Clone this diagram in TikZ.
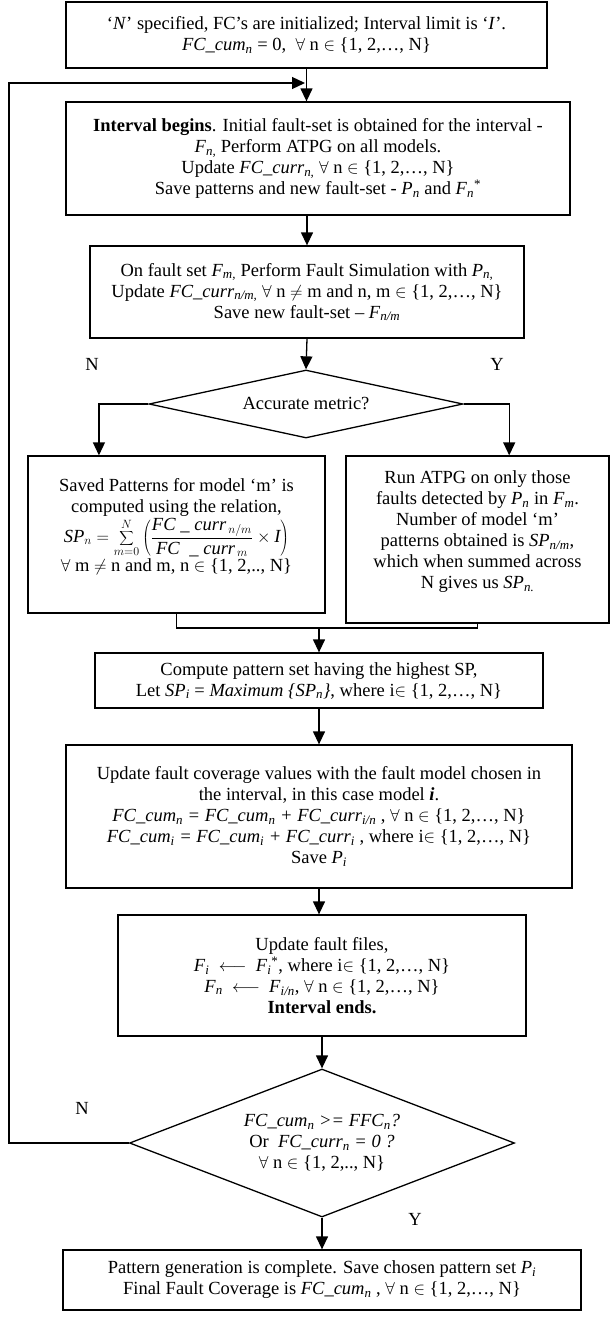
\documentclass[tikz,border=0pt]{standalone}
\usepackage{fontspec}
\setmainfont{Liberation Serif}
\usetikzlibrary{arrows.meta,shapes.geometric,calc}
\newcommand\sbi[1]{\textsubscript{\textit{#1}}}
\newcommand\fa{$\forall$}
\newcommand\myin{$\in$}
\begin{document}
\begin{tikzpicture}[x=1pt,y=-1pt,
  every node/.style={font=\fontsize{18.5}{21}\selectfont},
  box/.style={draw,line width=1.3pt,align=center,inner sep=0pt},
  dia/.style={draw,line width=1.3pt,diamond,align=center,inner sep=0pt},
  arr/.style={line width=1.3pt,-{Triangle[length=13pt,width=12pt]}},
  ln/.style={line width=1.3pt},
  lab/.style={inner sep=0pt}]
\useasboundingbox (0,0) rectangle (611,1317);

\node[box,minimum width=481pt,minimum height=66pt] (b1) at (306.5,35)
 {‘\textit{N}’ specified, FC’s are initialized; Interval limit is ‘\textit{I}’.\\
  \textit{FC\_cum}\sbi{n} = 0, \ \fa\ n \myin\ \{1, 2,…, N\}};

\node[box,minimum width=504pt,minimum height=113pt] (b2) at (318,158.5)
 {\textbf{Interval begins}. Initial fault-set is obtained for the interval -\\
  \textit{F}\sbi{n,} Perform ATPG on all models.\\
  Update \textit{FC\_curr}\sbi{n,} \fa\ n \myin\ \{1, 2,…, N\}\\
  Save patterns and new fault-set - \textit{P}\sbi{n} and \textit{F}\sbi{n}\textsuperscript{*}};

\node[box,minimum width=434pt,minimum height=92pt] (b3) at (307,292)
 {On fault set \textit{F}\sbi{m,} Perform Fault Simulation with \textit{P}\sbi{n,}\\
  Update \textit{FC\_curr}\sbi{n/m,} \fa\ n $\neq$ m and n, m \myin\ \{1, 2,…, N\}\\
  Save new fault-set – \textit{F}\sbi{n/m}};

\node[dia,shape aspect=4.6,minimum width=314pt,minimum height=68pt] (d1) at (306,404) {Accurate metric?};

\node[box,minimum width=297pt,minimum height=157pt] (bl) at (176.5,534.5)
 {Saved Patterns for model ‘m’ is\\
  computed using the relation,\\[1pt]
  $\displaystyle \textit{SP}_{n} = \sum_{m=0}^{N}\left(\frac{\textit{FC}\;\_\;\textit{curr}_{\,n/m}}{\textit{FC}\;\;\_\;\textit{curr}_{\,m}}\times \textit{I}\right)$\\[1pt]
  \fa\ m $\neq$ n and m, n \myin\ \{1, 2,.., N\}\\[-2pt]\mbox{}};

\node[box,minimum width=263pt,minimum height=167pt] (br) at (477.5,539.5)
 {Run ATPG on only those\\
  faults detected by \textit{P}\sbi{n} in \textit{F}\sbi{m}.\\
  Number of model ‘m’\\
  patterns obtained is \textit{SP}\sbi{n/m},\\
  which when summed across\\
  N gives us \textit{SP}\sbi{n.}\\[-2pt]\mbox{}};

\node[box,minimum width=448pt,minimum height=55pt] (b4) at (319,680.5)
 {Compute pattern set having the highest SP,\\
  Let \textit{SP}\sbi{i} = \textit{Maximum \{SP}\sbi{n}\textit{\}}, where i\myin\ \{1, 2,…, N\}};

\node[box,minimum width=506pt,minimum height=143pt] (b5) at (319,816.5)
 {Update fault coverage values with the fault model chosen in\\
  the interval, in this case model \textbf{\textit{i}}.\\
  \textit{FC\_cum}\sbi{n} \textit{= FC\_cum}\sbi{n} \textit{+ FC\_curr}\sbi{i/n} , \fa\ n \myin\ \{1, 2,…, N\}\\
  \textit{FC\_cum}\sbi{i} \textit{= FC\_cum}\sbi{i} \textit{+ FC\_curr}\sbi{i} , where i\myin\ \{1, 2,…, N\}\\
  Save \textit{P}\sbi{i}};

\node[box,minimum width=408pt,minimum height=121pt] (b6) at (322,975.5)
 {Update fault files,\\
  \textit{F}\sbi{i} \ $\longleftarrow$ \ \textit{F}\sbi{i}\textsuperscript{*}, where i\myin\ \{1, 2,…, N\}\\
  \textit{F}\sbi{n} \ $\longleftarrow$ \ \textit{F}\sbi{i/n}, \fa\ n \myin\ \{1, 2,…, N\}\\
  \textbf{Interval ends.}};

\node[dia,shape aspect=2.6,minimum width=385pt,minimum height=148pt] (d2) at (322,1143)
 {\textit{FC\_cum}\sbi{n} \textit{>= FFC}\sbi{n}\textit{?}\\
  Or \ \textit{FC\_curr}\sbi{n} \textit{= 0 ?}\\
  \fa\ n \myin\ \{1, 2,.., N\}};

\node[box,minimum width=518pt,minimum height=60pt] (bf) at (322,1280)
 {Pattern generation is complete. Save chosen pattern set \textit{P}\sbi{i}\\
  Final Fault Coverage is \textit{FC\_cum}\sbi{n} , \fa\ n \myin\ \{1, 2,…, N\}};

\node[lab] (n1) at (92,364) {N};
\node[lab] (y1) at (497,364) {Y};
\node[lab] (n2) at (82,1108) {N};
\node[lab] (y2) at (415,1219) {Y};

\coordinate (lp) at (9,83);
\coordinate (lpe) at (305,83);
\coordinate (mj) at (319,628);

\draw[arr] (b1.south) -- (b1.south |- b2.north);
\draw[arr] (d2.west) -- (d2.west -| lp) -- (lp) -- (lpe);
\draw[arr] (b3.north |- b2.south) -- (b3.north);
\draw[arr] (b3.south) -- (d1.north);
\draw[arr] (d1.west) -| ($(bl.north west)!0.24!(bl.north east)$);
\draw[arr] (d1.east) -| ($(br.north west)!0.62!(br.north east)$);
\draw[ln] (bl.south) |- (mj) -| (br.south);
\draw[arr] (mj) -- (b4.north);
\draw[arr] (b4.south) -- (b5.north);
\draw[arr] (b5.south) -- (b5.south |- b6.north);
\draw[arr] (b6.south) -- (d2.north);
\draw[arr] (d2.south) -- (bf.north);
\end{tikzpicture}
\end{document}
